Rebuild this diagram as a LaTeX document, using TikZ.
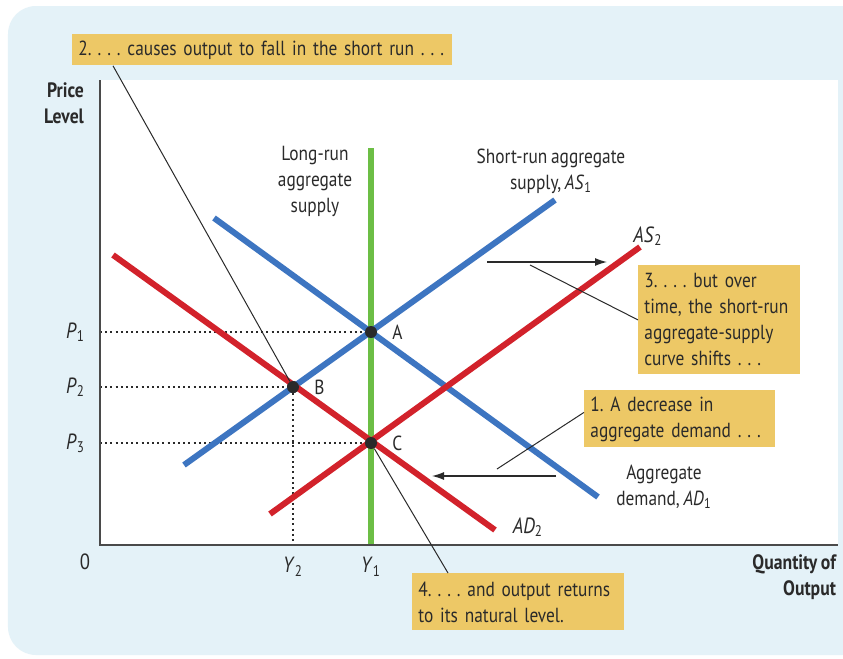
\documentclass[tikz,border=0pt]{standalone}
\usepackage{fontspec}
\setmainfont[FakeStretch=0.85,WordSpace=0.8]{PT Sans}
\usetikzlibrary{arrows.meta,positioning}
\definecolor{ink}{HTML}{2A2A2A}
\definecolor{panel}{HTML}{E4F2F8}
\definecolor{asblue}{HTML}{3D75C1}
\definecolor{adred}{HTML}{D2222B}
\definecolor{lrgreen}{HTML}{6CBE45}
\definecolor{note}{HTML}{EDC866}
\tikzset{>={Latex[length=6pt,width=4pt]},
  every node/.style={font=\fontsize{10.2}{13}\selectfont,text=ink},
  axis/.style={draw=ink!85,line width=1pt},
  guide/.style={draw=ink,line width=1pt,dash pattern=on 1pt off 1.6pt},
  curveblue/.style={draw=asblue,line width=3pt},
  curvered/.style={draw=adred,line width=3pt},
  lrline/.style={draw=lrgreen,line width=2.6pt},
  leader/.style={draw=ink,line width=.5pt},
  shiftarrow/.style={->,draw=ink,line width=.6pt},
  dot/.style={circle,fill=ink,inner sep=0pt,minimum size=6pt},
  notebox/.style={fill=note,align=left,anchor=north west,inner xsep=3pt,inner ysep=1pt},
  axlabel/.style={font=\fontsize{10.4}{13}\selectfont\bfseries,align=right},
  ticklabel/.style={font=\fontsize{11}{13}\selectfont}}
\newcommand{\vsub}[2]{\textit{#1}\textsubscript{#2}}
\newcommand{\dotsep}{.\kern3pt.\kern3pt.}
\frenchspacing

\begin{document}
\begin{tikzpicture}[x=0.5pt,y=-0.5pt]
\useasboundingbox (0,0) rectangle (843,659);
\fill[white] (0,0) rectangle (843,659);
\fill[panel,rounded corners=14pt] (8,6) rectangle (870,655);
\fill[white] (100,80) rectangle (838,545);

% axes and labels
\coordinate (O) at (100,545);\coordinate (ytop) at (100,80);\coordinate (xend) at (838,545);
\node[axlabel,anchor=east] (plabel) at (91,103) {Price\\Level};
\node[axlabel,anchor=east] (qlabel) at (843,577) {Quantity of\\Output};
\node[ticklabel] (zero) at (85,562) {0};

% equilibrium points
\node[dot] (A) at (371,332) {};\node[dot] (B) at (293,387) {};\node[dot] (C) at (371,443) {};

% dotted guides
\draw[guide] (O |- A)--(A) (O |- B)--(B) (O |- C)--(C) (B)--(B |- O);
\node[ticklabel,anchor=east] (p1) at (92,332) {\vsub{P}{1}};
\node[ticklabel,anchor=east] (p2) at (92,387) {\vsub{P}{2}};
\node[ticklabel,anchor=east] (p3) at (92,443) {\vsub{P}{3}};
\node[ticklabel] (y2) at (293,567) {\vsub{Y}{2}};\node[ticklabel] (y1) at (371,567) {\vsub{Y}{1}};

% curves
\coordinate (lrtop) at (371,148);
\coordinate (as1a) at (184,465);\coordinate (as1b) at (555,200);
\coordinate (ad1a) at (214,218);\coordinate (ad1b) at (598,497);
\coordinate (as2a) at (270,514);\coordinate (as2b) at (640,247);
\coordinate (ad2a) at (113,255);\coordinate (ad2b) at (495,530);
\draw[lrline] (lrtop)--(lrtop |- O);
\draw[curveblue] (as1a)--(as1b) (ad1a)--(ad1b);
\draw[curvered] (as2a)--(as2b) (ad2a)--(ad2b);
\draw[axis] (ytop)--(O)--(xend);

\node[align=center] (lrlabel) at (315,181) {Long-run\\aggregate\\supply};
\node[align=center] (as1label) at (551,171) {Short-run aggregate\\supply, \vsub{AS}{1}};
\node[ticklabel] (as2label) at (648,236) {\vsub{AS}{2}};
\node[align=center] (ad1label) at (664,487) {Aggregate\\demand, \vsub{AD}{1}};
\node[ticklabel] (ad2label) at (528,527) {\vsub{AD}{2}};

% shifts
\coordinate (rs) at (487,262);\coordinate (re) at (607,262);
\coordinate (ls) at (556,476);\coordinate (le) at (432,476);
\draw[shiftarrow] (rs)--(re);\draw[shiftarrow] (ls)--(le);

% notes
\node[notebox,text width=184pt,minimum height=15.5pt] (n2) at (72,34) {2.\kern3pt\dotsep{} causes output to fall in the short run \dotsep};
\node[notebox,text width=75pt,minimum height=54.5pt] (n3) at (638,265) {3.\kern3pt\dotsep{} but over\\time, the short-run\\aggregate-supply\\curve shifts \dotsep};
\node[notebox,text width=89.5pt,minimum height=28.5pt] (n1) at (584,390) {1. A decrease in\\aggregate demand \dotsep};
\node[notebox,text width=100pt,minimum height=28.5pt] (n4) at (412,573) {4.\kern3pt\dotsep{} and output returns\\to its natural level.};
\coordinate (n3end) at (530,265);\coordinate (n1end) at (497,469);
\draw[leader] ([xshift=20.5pt]n2.south west)--(B);
\draw[leader] (n3.west)--(n3end);
\draw[leader] ([yshift=3.25pt]n1.west)--(n1end);
\draw[leader] ([xshift=18pt]n4.north west)--(C);

\node[right=4pt of A] (alabel) {A};\node[right=4pt of B] (blabel) {B};\node[right=4pt of C] (clabel) {C};
\node[dot] at (A) {};\node[dot] at (B) {};\node[dot] at (C) {};
\end{tikzpicture}
\end{document}
